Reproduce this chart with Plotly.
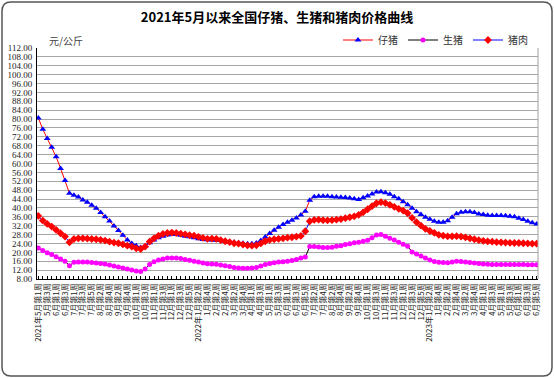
import datetime as dt
import plotly.graph_objects as go

# ---- data -------------------------------------------------------------
# weekly categories: 2021-05 week1 .. 2023-06 week5 (weeks counted by Thursday)
start = dt.date(2021, 5, 6)
n_weeks = 113
weeks = []
for k in range(n_weeks):
    d = start + dt.timedelta(days=7 * k)
    wk = (d.day - 1) // 7 + 1
    weeks.append((d.year, d.month, wk))

piglet = [80.5, 75.4, 71.3, 67.3, 63.0, 57.8, 52.3, 46.6, 45.7, 44.9,
          43.6, 42.6, 41.2, 39.9, 37.9, 36.0, 34.1, 31.9, 29.8, 27.7,
          25.6, 24.0, 23.0, 22.2, 22.8, 24.3, 25.6, 26.6, 27.3, 27.8,
          28.1, 28.0, 27.7, 27.3, 27.0, 26.6, 26.1, 25.8, 25.7, 25.6,
          25.5, 25.3, 25.0, 24.8, 24.5, 24.3, 24.1, 23.9, 23.9, 24.2,
          25.3, 26.9, 28.5, 30.0, 31.3, 32.5, 33.5, 34.5, 35.5, 36.8,
          38.5, 43.5, 45.0, 45.3, 45.3, 45.2, 45.0, 44.9, 44.8, 44.7,
          44.5, 44.1, 43.8, 44.6, 45.4, 46.3, 47.2, 47.3, 46.8, 46.2,
          45.0, 44.1, 42.8, 41.4, 39.8, 38.3, 37.0, 35.8, 34.9, 34.0,
          33.6, 33.5, 34.2, 35.8, 37.4, 38.0, 38.3, 38.3, 37.9, 37.3,
          37.0, 36.7, 36.6, 36.6, 36.6, 36.5, 36.3, 36.0, 35.3, 34.8,
          34.0, 33.3, 32.8]

hog = [22.0, 20.8, 19.8, 19.0, 18.0, 17.0, 16.0, 14.0, 15.5, 15.7,
       15.7, 15.6, 15.4, 15.2, 15.0, 14.7, 14.3, 13.9, 13.4, 13.0,
       12.5, 12.0, 11.6, 11.4, 12.5, 14.5, 15.8, 16.5, 17.0, 17.4,
       17.5, 17.4, 17.2, 16.8, 16.4, 16.0, 15.6, 15.2, 14.9, 14.8,
       14.6, 14.3, 14.0, 13.6, 13.2, 12.9, 12.8, 12.8, 12.9, 13.2,
       13.8, 14.5, 15.0, 15.3, 15.6, 15.8, 16.0, 16.3, 16.8, 17.4,
       17.9, 22.6, 22.6, 22.4, 22.2, 22.2, 22.3, 22.7, 23.0, 23.5,
       23.9, 24.3, 24.6, 25.0, 25.5, 26.6, 27.8, 28.0, 27.2, 26.4,
       25.6, 24.5, 23.6, 22.7, 20.2, 19.2, 18.4, 17.4, 16.5, 15.9,
       15.5, 15.4, 15.3, 15.6, 16.0, 15.9, 15.6, 15.4, 15.2, 15.0,
       14.8, 14.6, 14.5, 14.5, 14.5, 14.5, 14.5, 14.5, 14.5, 14.5,
       14.4, 14.4, 14.4]

pork = [36.4, 34.3, 32.8, 31.6, 30.1, 28.6, 27.1, 24.5, 26.0, 26.3,
        26.3, 26.2, 26.0, 25.9, 25.6, 25.3, 24.8, 24.4, 24.1, 23.6,
        23.0, 22.6, 21.8, 21.5, 22.6, 24.8, 26.3, 27.5, 28.3, 28.7,
        28.9, 28.7, 28.4, 28.1, 27.7, 27.5, 27.0, 26.5, 26.1, 26.2,
        26.1, 25.5, 25.0, 24.6, 24.1, 23.9, 23.5, 23.1, 23.0, 23.2,
        24.0, 25.0, 25.6, 25.9, 26.1, 26.3, 26.6, 26.8, 27.1, 27.4,
        29.5, 34.0, 34.6, 34.7, 34.5, 34.4, 34.5, 34.7, 35.0, 35.4,
        35.8, 36.2, 36.9, 38.0, 39.4, 40.8, 42.1, 42.6, 42.2, 41.4,
        40.5, 39.6, 38.8, 37.6, 35.5, 33.6, 32.0, 30.6, 29.6, 28.8,
        27.9, 27.5, 27.2, 27.2, 27.3, 27.1, 26.7, 26.3, 25.9, 25.5,
        25.2, 24.9, 24.8, 24.6, 24.5, 24.4, 24.3, 24.2, 24.2, 24.1,
        24.0, 23.9, 23.9]

series_names = ["仔猪", "生猪", "猪肉"]

# tick labels: every other week
tick_text = []
seen_years = set()
for k, (y, m, w) in enumerate(weeks):
    if k % 2:
        tick_text.append("")
        continue
    if y not in seen_years and (k == 0 or m == 1):
        seen_years.add(y)
        tick_text.append(f"{y}年{m}月第{w}周")
    else:
        tick_text.append(f"{m}月第{w}周")

x_idx = list(range(n_weeks))

# ---- figure -----------------------------------------------------------
fig = go.Figure()
fig.add_trace(go.Scatter(
    x=x_idx, y=piglet, name=series_names[0], mode="lines+markers",
    line=dict(color="#ff0000", width=1),
    marker=dict(symbol="triangle-up", size=6, color="#0000ff",
                line=dict(width=0))))
fig.add_trace(go.Scatter(
    x=x_idx, y=hog, name=series_names[1], mode="lines+markers",
    line=dict(color="#000000", width=1),
    marker=dict(symbol="circle", size=5, color="#ff00ff",
                line=dict(width=0))))
fig.add_trace(go.Scatter(
    x=x_idx, y=pork, name=series_names[2], mode="lines+markers",
    line=dict(color="#0000ff", width=1),
    marker=dict(symbol="diamond", size=6, color="#ff0000",
                line=dict(width=0))))

L, R, T, B = 37, 16, 48, 99
W, H = 554, 378
pw, ph = W - L - R, H - T - B


def px_to_paper(xp, yp):
    return (xp - L) / pw, (H - B - yp) / ph


# rounded outer frame
x0, y0 = px_to_paper(2, 2)
x1, y1 = px_to_paper(552, 376)
rx, ry = 9 / pw, 9 / ph
frame = (f"M {x0+rx},{y0} L {x1-rx},{y0} Q {x1},{y0} {x1},{y0-ry} "
         f"L {x1},{y1+ry} Q {x1},{y1} {x1-rx},{y1} "
         f"L {x0+rx},{y1} Q {x0},{y1} {x0},{y1+ry} "
         f"L {x0},{y0-ry} Q {x0},{y0} {x0+rx},{y0} Z")

fig.update_layout(
    width=W, height=H, autosize=False,
    margin=dict(l=L, r=R, t=T, b=B, autoexpand=False),
    paper_bgcolor="white", plot_bgcolor="white",
    showlegend=True,
    legend=dict(orientation="h", x=0.99, xanchor="right",
                y=(H - B - 40) / ph, yanchor="middle",
                font=dict(family="Noto Sans CJK SC", size=10, color="#333"),
                itemwidth=30, tracegroupgap=0, bgcolor="rgba(0,0,0,0)"),
    title=dict(text="<b>2021年5月以来全国仔猪、生猪和猪肉价格曲线</b>",
               x=0.5, xanchor="center", y=1 - 17 / H, yanchor="middle",
               font=dict(family="Noto Sans CJK SC", size=13, color="#000")),
    shapes=[
        dict(type="path", xref="paper", yref="paper", path=frame,
             line=dict(color="#555555", width=1.5), layer="above"),
        dict(type="line", xref="paper", yref="paper", x0=1, y0=0, x1=1, y1=1,
             line=dict(color="#a0a0a0", width=1), layer="above"),
    ],
    annotations=[
        dict(text="元/公斤", xref="paper", yref="paper",
             x=px_to_paper(66, 0)[0], y=(H - B - 40) / ph,
             xanchor="center", yanchor="middle", showarrow=False,
             font=dict(family="Noto Sans CJK SC", size=10, color="#444")),
    ],
)

fig.update_xaxes(
    range=[-0.3, n_weeks - 1 + 0.3], automargin=False,
    tickmode="array", tickvals=x_idx, ticktext=tick_text,
    tickangle=-90, tickfont=dict(family="Noto Sans CJK SC", size=8, color="#222"),
    ticks="inside", ticklen=3, tickcolor="#000", tickwidth=1,
    showgrid=False, zeroline=False,
    showline=True, linecolor="#000", linewidth=1,
)
fig.update_yaxes(
    range=[8, 112], tick0=8, dtick=4, tickformat=".2f", automargin=False,
    tickfont=dict(family="Liberation Serif", size=9, color="#222"),
    showgrid=True, gridcolor="#a6a6a6", gridwidth=1,
    zeroline=False, showline=True, linecolor="#000", linewidth=1,
    ticks="", ticklabelstandoff=2,
)

fig.write_html("out.html",
               config={"displayModeBar": False},
               post_script="document.body.style.margin='0';"
                           "document.body.style.overflow='hidden';")
